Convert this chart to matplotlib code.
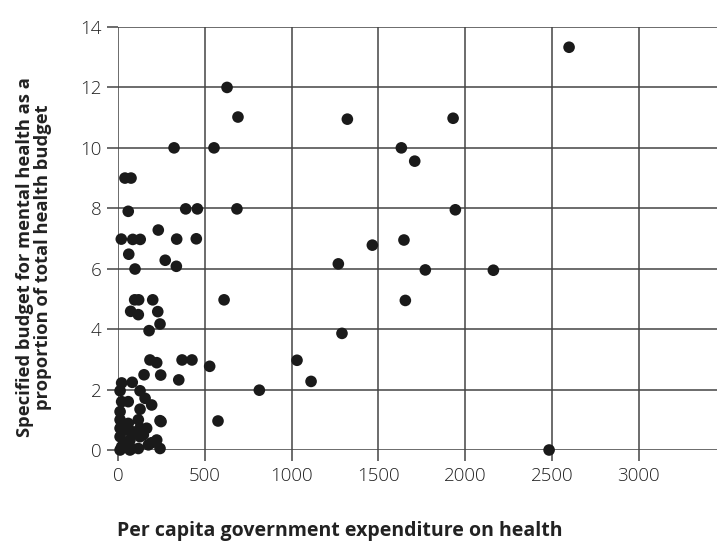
import matplotlib
matplotlib.use("Agg")
import matplotlib.pyplot as plt

# Per capita government expenditure on health
spend = [2598, 1321, 1930, 1632, 1709, 1943, 1647, 1465, 1269, 1770, 2162, 1655,
         1290, 1031, 1112, 814, 2483,
         628, 691, 553, 323, 685, 611, 528, 576,
         40, 75, 59, 390, 457, 232, 19, 85, 128, 338, 451, 62, 272, 336, 98,
         96, 119, 200, 73, 117, 229, 242, 179, 184, 223, 369, 426, 150, 246, 350,
         21, 82, 12, 127, 156, 194, 21, 59, 12, 127, 242, 12, 59, 117, 248,
         12, 50, 127, 165, 12, 69, 127, 21, 69, 117, 175, 223, 242, 12,
         88, 146, 194, 79, 40]
# Mental health budget as % of total health budget
share = [13.33, 10.95, 10.98, 10.0, 9.56, 7.95, 6.95, 6.78, 6.16, 5.96, 5.95, 4.95,
         3.86, 2.97, 2.27, 1.98, 0.0,
         12.0, 11.02, 10.0, 10.0, 7.98, 4.97, 2.77, 0.96,
         9.0, 9.0, 7.9, 7.98, 7.98, 7.28, 6.98, 6.97, 6.97, 6.98, 6.99, 6.48, 6.28, 6.08, 5.99,
         4.97, 4.97, 4.97, 4.59, 4.48, 4.58, 4.17, 3.95, 2.98, 2.89, 2.98, 2.98, 2.49, 2.48, 2.32,
         2.22, 2.24, 1.96, 1.96, 1.71, 1.49, 1.6, 1.6, 1.27, 1.35, 0.97, 1.0, 0.88, 1.0, 0.94,
         0.72, 0.66, 0.72, 0.72, 0.44, 0.33, 0.44, 0.11, 0.0, 0.05, 0.17, 0.33, 0.05, 0.0,
         0.6, 0.5, 0.24, 0.05, 0.2]

xticks = [0, 500, 1000, 1500, 2000, 2500, 3000]
yticks = [0, 2, 4, 6, 8, 10, 12, 14]

plt.rcParams['font.family'] = ['Open Sans', 'DejaVu Sans']

fig = plt.figure(figsize=(7.17, 5.43), dpi=100)
ax = fig.add_axes([118/717, 1 - 450/543, 1 - 118/717, (450 - 27)/543])

gc = '#444444'
ax.set_xlim(0, 3450)
ax.set_ylim(0, 14)
ax.set_xticks(xticks)
ax.set_yticks(yticks)
ax.grid(True, color=gc, linewidth=1.1)
ax.set_axisbelow(True)
for s in ax.spines.values():
    s.set_visible(False)
ax.tick_params(axis='both', direction='out', length=8, width=1.1, color=gc,
               labelsize=13.5, labelcolor='#222222', pad=4)
for lab in ax.get_xticklabels() + ax.get_yticklabels():
    lab.set_fontweight('light')

ax.scatter(spend, share, s=70, color='#1a1a1a', edgecolors='none', zorder=3, clip_on=False)

fig.text(117/717, 1 - 531/543, 'Per capita government expenditure on health',
         fontsize=14, fontweight='bold', color='#222222', ha='left', va='center')
fig.text(34/717, 1 - 257/543,
         'Specified budget for mental health as a\nproportion of total health budget',
         fontsize=13.2, fontweight='bold', color='#222222', rotation=90,
         ha='center', va='center', linespacing=1.05)

fig.savefig('out.png', dpi=100)
